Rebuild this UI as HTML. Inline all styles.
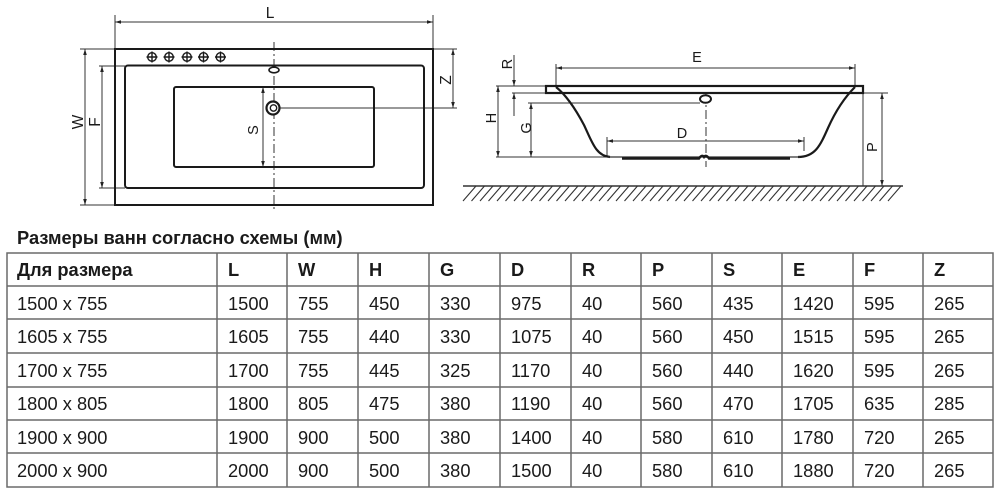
<!DOCTYPE html>
<html><head><meta charset="utf-8"><style>
html,body{margin:0;padding:0;background:#fff;}
svg{display:block;}
text{font-family:"Liberation Sans",Arial,sans-serif;fill:#1a1a1a;}
</style></head><body>
<svg width="1000" height="493" viewBox="0 0 1000 493" xmlns="http://www.w3.org/2000/svg">
<defs>
<marker id="a" viewBox="0 0 10 6" refX="10" refY="3" markerWidth="6" markerHeight="4" markerUnits="userSpaceOnUse" orient="auto-start-reverse"><path d="M0,0 L10,3 L0,6 z" fill="#222"/></marker>
</defs>

<!-- ===== TOP VIEW ===== -->
<g stroke="#333" stroke-width="1" fill="none">
  <line x1="115" y1="15" x2="115" y2="49"/>
  <line x1="433" y1="15" x2="433" y2="49"/>
  <line x1="115" y1="22" x2="433" y2="22" marker-start="url(#a)" marker-end="url(#a)"/>
  <line x1="80" y1="49" x2="115" y2="49"/>
  <line x1="80" y1="205" x2="115" y2="205"/>
  <line x1="85" y1="49" x2="85" y2="205" marker-start="url(#a)" marker-end="url(#a)"/>
  <line x1="99" y1="66" x2="125" y2="66"/>
  <line x1="99" y1="188" x2="125" y2="188"/>
  <line x1="102" y1="66" x2="102" y2="188" marker-start="url(#a)" marker-end="url(#a)"/>
  <line x1="263" y1="87" x2="263" y2="167" marker-start="url(#a)" marker-end="url(#a)"/>
  <line x1="433" y1="49" x2="457" y2="49"/>
  <line x1="279" y1="108" x2="457" y2="108"/>
  <line x1="453" y1="49" x2="453" y2="108" marker-start="url(#a)" marker-end="url(#a)"/>
  <line x1="274" y1="42" x2="274" y2="210" stroke-dasharray="9 3 2 3"/>
</g>
<g stroke="#1a1a1a" stroke-width="2" fill="none">
  <rect x="115" y="49" width="318" height="156"/>
  <rect x="125" y="65.5" width="299" height="122.5" rx="3"/>
  <rect x="174" y="87" width="200" height="80" rx="2"/>
</g>
<ellipse cx="274" cy="70" rx="5" ry="2.8" fill="#fff" stroke="#1a1a1a" stroke-width="1.6"/>
<circle cx="273" cy="108" r="6.5" fill="#fff" stroke="#1a1a1a" stroke-width="2.2"/>
<circle cx="273.5" cy="108" r="3.2" fill="#fff" stroke="#1a1a1a" stroke-width="1.4"/>
<g stroke="#1a1a1a" stroke-width="1.4" fill="none">
  <circle cx="152" cy="57" r="4.3"/><path d="M152 51.5V62.5M146.5 57H157.5"/>
  <circle cx="169" cy="57" r="4.3"/><path d="M169 51.5V62.5M163.5 57H174.5"/>
  <circle cx="187" cy="57" r="4.3"/><path d="M187 51.5V62.5M181.5 57H192.5"/>
  <circle cx="203.5" cy="57" r="4.3"/><path d="M203.5 51.5V62.5M198 57H209"/>
  <circle cx="220.5" cy="57" r="4.3"/><path d="M220.5 51.5V62.5M215 57H226"/>
</g>
<text x="270" y="18" font-size="15.5" text-anchor="middle">L</text>
<text transform="translate(83,122) rotate(-90)" font-size="15.5" text-anchor="middle">W</text>
<text transform="translate(100,122) rotate(-90)" font-size="15.5" text-anchor="middle">F</text>
<text transform="translate(258,130) rotate(-90)" font-size="14.5" text-anchor="middle">S</text>
<text transform="translate(451,80) rotate(-90)" font-size="15.5" text-anchor="middle">Z</text>

<!-- ===== SIDE VIEW ===== -->
<g stroke="#333" stroke-width="1" fill="none">
  <line x1="556" y1="64" x2="556" y2="86"/>
  <line x1="855" y1="64" x2="855" y2="86"/>
  <line x1="556" y1="68" x2="855" y2="68" marker-start="url(#a)" marker-end="url(#a)"/>
  <line x1="496" y1="86" x2="546" y2="86"/>
  <line x1="496" y1="157" x2="608" y2="157"/>
  <line x1="498" y1="86" x2="498" y2="157" marker-start="url(#a)" marker-end="url(#a)"/>
  <line x1="512" y1="93" x2="546" y2="93"/>
  <line x1="514" y1="55" x2="514" y2="86" marker-end="url(#a)"/>
  <line x1="514" y1="116" x2="514" y2="93" marker-end="url(#a)"/>
  <line x1="528" y1="103" x2="700" y2="103"/>
  <line x1="531" y1="103" x2="531" y2="157" marker-start="url(#a)" marker-end="url(#a)"/>
  <line x1="607" y1="137" x2="607" y2="156"/>
  <line x1="804" y1="137" x2="804" y2="151"/>
  <line x1="607" y1="141" x2="804" y2="141" marker-start="url(#a)" marker-end="url(#a)"/>
  <line x1="863" y1="93" x2="863" y2="186"/>
  <line x1="863" y1="93" x2="888" y2="93"/>
  <line x1="882" y1="93" x2="882" y2="186" marker-start="url(#a)" marker-end="url(#a)"/>
  <line x1="706" y1="93" x2="706" y2="167" stroke-dasharray="9 3 2 3"/>
</g>
<rect x="546" y="86" width="317" height="7" fill="#fff" stroke="#1a1a1a" stroke-width="2.2"/>
<g stroke="#1a1a1a" stroke-width="2.2" fill="none">
  <path d="M556,87 C566,95 575,108 584,125 C592,142 596,156 610,157"/>
  <path d="M855,87 C845,97 836,110 828,128 C820,146 815,157 798,157"/>
</g>
<line x1="608" y1="157" x2="800" y2="157" stroke="#333" stroke-width="1.2"/>
<path d="M622,158.5 H699 Q702,154 704,157 Q706,154 709,158.5 H790" stroke="#1a1a1a" stroke-width="2.4" fill="none"/>
<ellipse cx="705.5" cy="99" rx="5.5" ry="3.8" fill="#fff" stroke="#1a1a1a" stroke-width="2"/>
<line x1="463" y1="186" x2="903" y2="186" stroke="#333" stroke-width="1.5"/>
<g stroke="#333" stroke-width="1.1">
<path d="M463,201 L476,186 M471.5,201 L484.5,186 M480,201 L493,186 M488.5,201 L501.5,186 M497,201 L510,186 M505.5,201 L518.5,186 M514,201 L527,186 M522.5,201 L535.5,186 M531,201 L544,186 M539.5,201 L552.5,186 M548,201 L561,186 M556.5,201 L569.5,186 M565,201 L578,186 M573.5,201 L586.5,186 M582,201 L595,186 M590.5,201 L603.5,186 M599,201 L612,186 M607.5,201 L620.5,186 M616,201 L629,186 M624.5,201 L637.5,186 M633,201 L646,186 M641.5,201 L654.5,186 M650,201 L663,186 M658.5,201 L671.5,186 M667,201 L680,186 M675.5,201 L688.5,186 M684,201 L697,186 M692.5,201 L705.5,186 M701,201 L714,186 M709.5,201 L722.5,186 M718,201 L731,186 M726.5,201 L739.5,186 M735,201 L748,186 M743.5,201 L756.5,186 M752,201 L765,186 M760.5,201 L773.5,186 M769,201 L782,186 M777.5,201 L790.5,186 M786,201 L799,186 M794.5,201 L807.5,186 M803,201 L816,186 M811.5,201 L824.5,186 M820,201 L833,186 M828.5,201 L841.5,186 M837,201 L850,186 M845.5,201 L858.5,186 M854,201 L867,186 M862.5,201 L875.5,186 M871,201 L884,186 M879.5,201 L892.5,186 M888,201 L901,186"/>
</g>
<text x="697" y="62" font-size="14.5" text-anchor="middle">E</text>
<text x="682" y="138" font-size="14.5" text-anchor="middle">D</text>
<text transform="translate(496,118) rotate(-90)" font-size="14.5" text-anchor="middle">H</text>
<text transform="translate(531,128) rotate(-90)" font-size="14.5" text-anchor="middle">G</text>
<text transform="translate(512,64) rotate(-90)" font-size="14.5" text-anchor="middle">R</text>
<text transform="translate(877,147) rotate(-90)" font-size="14.5" text-anchor="middle">P</text>

<!-- ===== TABLE ===== -->
<text x="17" y="244" font-size="18.3" font-weight="bold">Размеры ванн согласно схемы (мм)</text>
<g stroke="#6a6a6a" stroke-width="1.5">
  <rect x="7" y="253" width="986" height="234" fill="none"/>
  <line x1="7" y1="286" x2="993" y2="286"/>
  <line x1="7" y1="319" x2="993" y2="319"/>
  <line x1="7" y1="353" x2="993" y2="353"/>
  <line x1="7" y1="387" x2="993" y2="387"/>
  <line x1="7" y1="420" x2="993" y2="420"/>
  <line x1="7" y1="453" x2="993" y2="453"/>
  <line x1="217" y1="253" x2="217" y2="487"/>
  <line x1="287" y1="253" x2="287" y2="487"/>
  <line x1="358" y1="253" x2="358" y2="487"/>
  <line x1="429" y1="253" x2="429" y2="487"/>
  <line x1="500" y1="253" x2="500" y2="487"/>
  <line x1="571" y1="253" x2="571" y2="487"/>
  <line x1="641" y1="253" x2="641" y2="487"/>
  <line x1="712" y1="253" x2="712" y2="487"/>
  <line x1="782" y1="253" x2="782" y2="487"/>
  <line x1="853" y1="253" x2="853" y2="487"/>
  <line x1="923" y1="253" x2="923" y2="487"/>
</g>
<g font-size="18.3" font-weight="bold">
  <text x="17" y="276">Для размера</text>
  <text x="228" y="276">L</text>
  <text x="298" y="276">W</text>
  <text x="369" y="276">H</text>
  <text x="440" y="276">G</text>
  <text x="511" y="276">D</text>
  <text x="582" y="276">R</text>
  <text x="652" y="276">P</text>
  <text x="723" y="276">S</text>
  <text x="793" y="276">E</text>
  <text x="864" y="276">F</text>
  <text x="934" y="276">Z</text>
</g>
<g font-size="18.3">
  <text x="17" y="310">1500 x 755</text><text x="228" y="310">1500</text><text x="298" y="310">755</text><text x="369" y="310">450</text><text x="440" y="310">330</text><text x="511" y="310">975</text><text x="582" y="310">40</text><text x="652" y="310">560</text><text x="723" y="310">435</text><text x="793" y="310">1420</text><text x="864" y="310">595</text><text x="934" y="310">265</text>
  <text x="17" y="343">1605 x 755</text><text x="228" y="343">1605</text><text x="298" y="343">755</text><text x="369" y="343">440</text><text x="440" y="343">330</text><text x="511" y="343">1075</text><text x="582" y="343">40</text><text x="652" y="343">560</text><text x="723" y="343">450</text><text x="793" y="343">1515</text><text x="864" y="343">595</text><text x="934" y="343">265</text>
  <text x="17" y="377">1700 x 755</text><text x="228" y="377">1700</text><text x="298" y="377">755</text><text x="369" y="377">445</text><text x="440" y="377">325</text><text x="511" y="377">1170</text><text x="582" y="377">40</text><text x="652" y="377">560</text><text x="723" y="377">440</text><text x="793" y="377">1620</text><text x="864" y="377">595</text><text x="934" y="377">265</text>
  <text x="17" y="410">1800 x 805</text><text x="228" y="410">1800</text><text x="298" y="410">805</text><text x="369" y="410">475</text><text x="440" y="410">380</text><text x="511" y="410">1190</text><text x="582" y="410">40</text><text x="652" y="410">560</text><text x="723" y="410">470</text><text x="793" y="410">1705</text><text x="864" y="410">635</text><text x="934" y="410">285</text>
  <text x="17" y="444">1900 x 900</text><text x="228" y="444">1900</text><text x="298" y="444">900</text><text x="369" y="444">500</text><text x="440" y="444">380</text><text x="511" y="444">1400</text><text x="582" y="444">40</text><text x="652" y="444">580</text><text x="723" y="444">610</text><text x="793" y="444">1780</text><text x="864" y="444">720</text><text x="934" y="444">265</text>
  <text x="17" y="477">2000 x 900</text><text x="228" y="477">2000</text><text x="298" y="477">900</text><text x="369" y="477">500</text><text x="440" y="477">380</text><text x="511" y="477">1500</text><text x="582" y="477">40</text><text x="652" y="477">580</text><text x="723" y="477">610</text><text x="793" y="477">1880</text><text x="864" y="477">720</text><text x="934" y="477">265</text>
</g>
</svg>
</body></html>
